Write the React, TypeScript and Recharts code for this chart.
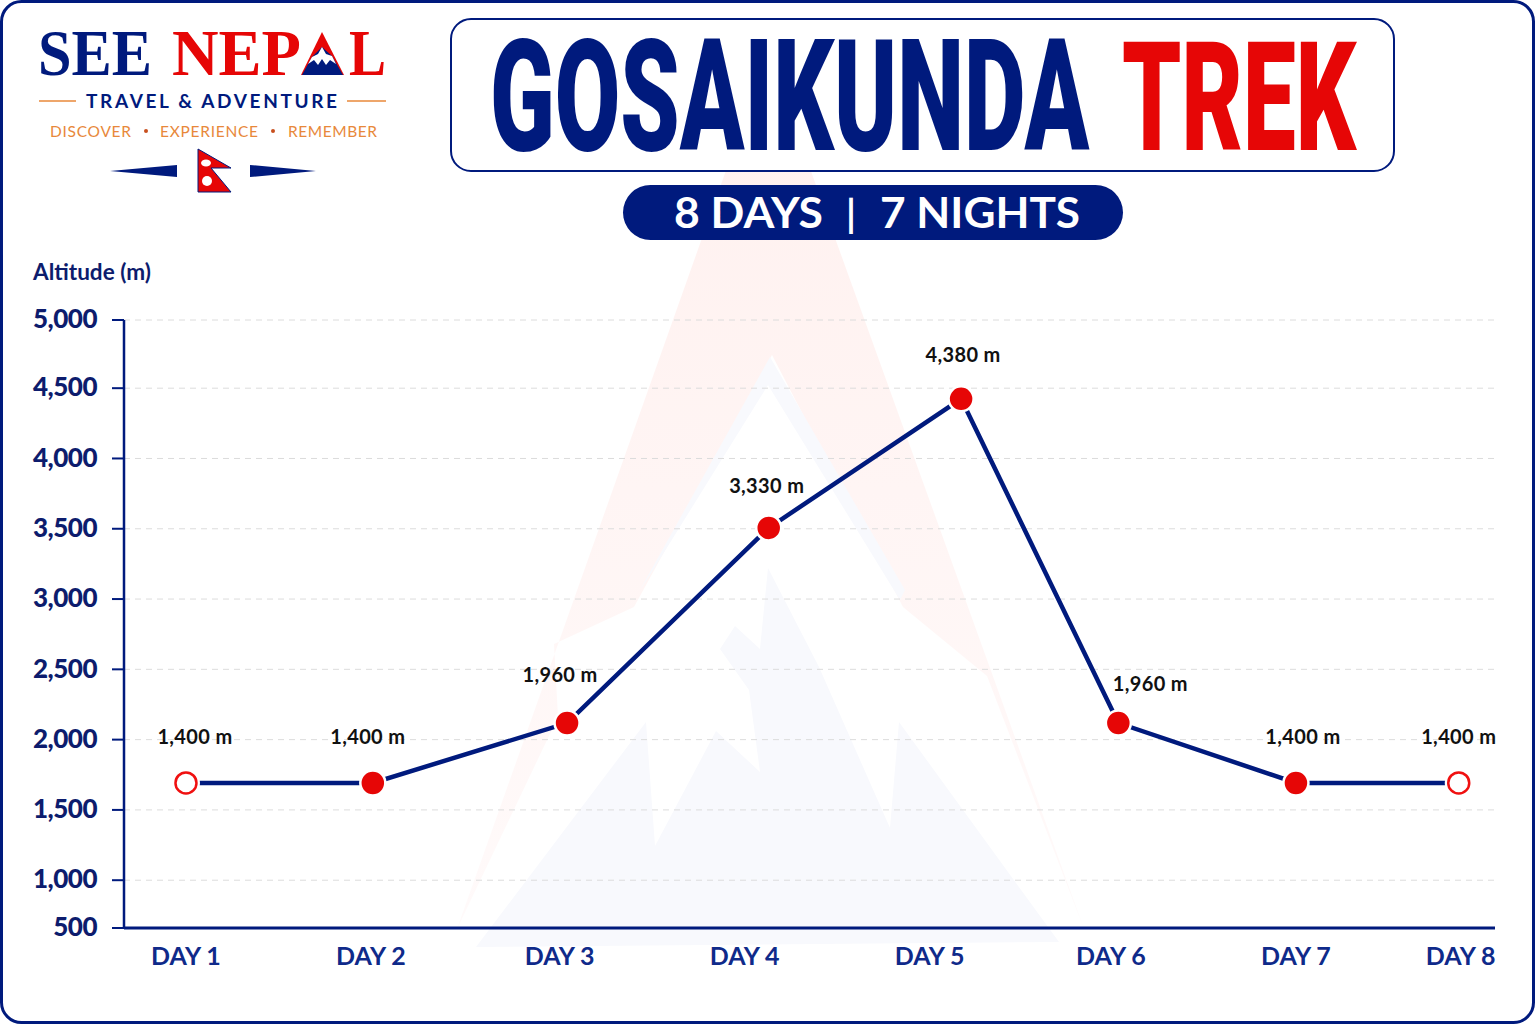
import React from 'react'
import { LineChart, Line, XAxis, YAxis, CartesianGrid, LabelList } from 'recharts'

// where each stop sits along the trail, in day units (the stops drift from the day labels)
const stopPositions = [1, 2.01, 3.06, 4.15, 5.19, 6.04, 7.0, 7.88]
// altitude as drawn against the axis, which is not the same as the printed label
const plottedAltitude = [1692, 1692, 2118, 3506, 4424, 2118, 1692, 1692]
const altitudeLabels = ['1,400 m', '1,400 m', '1,960 m', '3,330 m', '4,380 m', '1,960 m', '1,400 m', '1,400 m']

const dayLabels = ['DAY 1', 'DAY 2', 'DAY 3', 'DAY 4', 'DAY 5', 'DAY 6', 'DAY 7', 'DAY 8']
const dayTicks = [1, 2, 3.02, 4.02, 5.02, 6.0, 7.0, 7.89]

// the printed axis is not even: squeezed under 1,000 and a touch short at the top,
// so the two end ticks sit where a linear scale would say 660 and 4985
const altitudeTicks = [660, 1000, 1500, 2000, 2500, 3000, 3500, 4000, 4500, 4985]
const altitudeTickLabels = ['500', '1,000', '1,500', '2,000', '2,500', '3,000', '3,500', '4,000', '4,500', '5,000']

const rows = stopPositions.map((pos, i) => ({ pos, altitude: plottedAltitude[i], label: altitudeLabels[i] }))

const NAVY = '#001a7d'
const RED = '#e60606'
const ORANGE = '#e8883a'
const LABEL_NUDGE = [[9, -46], [-5, -46], [-7, -48], [-2, -42], [2, -44], [32, -39], [7, -46], [0, -46]]

const StopDot = (props: any) => {
  const { cx, cy, index } = props
  const open = index === 0 || index === rows.length - 1
  if (open) {
    return (
      <g key={index}>
        <circle cx={cx} cy={cy} r={14} fill="#fff" />
        <circle cx={cx} cy={cy} r={10.5} fill="#fff" stroke="#f01010" strokeWidth={2.5} />
      </g>
    )
  }
  return <circle key={index} cx={cx} cy={cy} r={12.5} fill={RED} stroke="#fff" strokeWidth={2.5} />
}

const StopLabel = (props: any) => {
  const { x, y, index, value } = props
  const [dx, dy] = LABEL_NUDGE[index]
  return (
    <text x={x + dx} y={y + dy} dy={7} textAnchor="middle" fontFamily="Lato" fontWeight={700} fontSize={20} letterSpacing={0.35} fill="#111">
      {value}
    </text>
  )
}

const Backdrop = () => (
  <svg width={1535} height={1024} style={{ position: 'absolute', left: 0, top: 0 }}>
    <defs>
      <linearGradient id="redFade" x1="0" y1="0" x2="0" y2="1">
        <stop offset="0" stopColor="#fff0ee" />
        <stop offset="1" stopColor="#fffafa" />
      </linearGradient>
    </defs>
    <rect x={0} y={0} width={1535} height={1024} fill="#fff" />
    <rect x={1.5} y={1.5} width={1532} height={1021} rx={20} fill="#fff" stroke={NAVY} strokeWidth={3} />

    {/* faint mountain watermark */}
    <polygon points="768,52 1084,929 987,676 903,607 772,355 634,607 554,644 558,717 457,929" fill="url(#redFade)" />
    <polygon points="476,947 646,722 655,846 716,731 760,772 749,690 720,649 735,626 760,649 768,568 819,667 890,828 899,722 1059,942" fill="#f8f9fd" />
    <polygon points="770,357 640,590 650,575 768,385 900,600 905,590" fill="#f8f9fd" />

    {/* logo */}
    <text x={38} y={75} fontFamily="Liberation Serif" fontWeight={700} fontSize={65} fill={NAVY} textLength={114} lengthAdjust="spacingAndGlyphs">SEE</text>
    <text x={172} y={75} fontFamily="Liberation Serif" fontWeight={700} fontSize={65} fill={RED} textLength={129} lengthAdjust="spacingAndGlyphs">NEP</text>
    <text x={349} y={75} fontFamily="Liberation Serif" fontWeight={700} fontSize={65} fill={RED} textLength={37} lengthAdjust="spacingAndGlyphs">L</text>
    <polygon points="322,32 344,75 301,75" fill={RED} />
    <polygon points="322,47 332,56 343,75 302,75 312,57" fill={NAVY} />
    <polygon points="322,47 326,54 332,56 336,64 330,60 326,65 322,59 318,65 314,60 308,64 312,57 318,54" fill="#fff" />

    <line x1={39} y1={101} x2={76} y2={101} stroke={ORANGE} strokeWidth={1.5} />
    <line x1={347} y1={101} x2={386} y2={101} stroke={ORANGE} strokeWidth={1.5} />
    <text x={86} y={108} fontFamily="Lato" fontWeight={700} fontSize={19} fill={NAVY} textLength={251} lengthAdjust="spacing">TRAVEL &amp; ADVENTURE</text>
    <text x={50} y={137} fontFamily="Lato" fontWeight={400} fontSize={15.5} fill={ORANGE} textLength={81} lengthAdjust="spacing">DISCOVER</text>
    <text x={160} y={137} fontFamily="Lato" fontWeight={400} fontSize={15.5} fill={ORANGE} textLength={98} lengthAdjust="spacing">EXPERIENCE</text>
    <text x={288} y={137} fontFamily="Lato" fontWeight={400} fontSize={15.5} fill={ORANGE} textLength={89} lengthAdjust="spacing">REMEMBER</text>
    <circle cx={146} cy={131} r={2} fill="#c8501e" />
    <circle cx={273} cy={131} r={2} fill="#c8501e" />

    <polygon points="110,171 177,165 177,177" fill={NAVY} />
    <polygon points="250,165 250,177 316,171" fill={NAVY} />
    <polygon points="198,149 231,168 211,168 231,192 198,192" fill={RED} stroke={NAVY} strokeWidth={1} />
    <ellipse cx={206} cy={163} rx={5} ry={3.5} fill="#fff" />
    <circle cx={207} cy={181} r={5} fill="#fff" />

    {/* title, squeezed sideways because no condensed face is installed */}
    <rect x={451} y={19} width={943} height={152} rx={20} fill="#fff" stroke={NAVY} strokeWidth={2} />
    <text transform="translate(490,150) scale(0.613,1)" fontFamily="Roboto" fontWeight={900} fontSize={155} fill={NAVY}>GOSAIKUNDA</text>
    <text transform="translate(1122,150) scale(0.62,1)" fontFamily="Roboto" fontWeight={900} fontSize={152} fill={RED}>TREK</text>

    <rect x={623} y={185} width={500} height={55} rx={27.5} fill={NAVY} />
    <text x={674} y={228} fontFamily="Lato" fontWeight={700} fontSize={42} fill="#fff" textLength={149} lengthAdjust="spacingAndGlyphs">8 DAYS</text>
    <text x={851} y={228} textAnchor="middle" fontFamily="Lato" fontWeight={700} fontSize={38} fill="#fff">|</text>
    <text x={880} y={228} fontFamily="Lato" fontWeight={700} fontSize={42} fill="#fff" textLength={200} lengthAdjust="spacingAndGlyphs">7 NIGHTS</text>

    <text x={33} y={280} fontFamily="Lato" fontWeight={700} fontSize={22} fill="#0d1c6d" textLength={118} lengthAdjust="spacingAndGlyphs">Altitude (m)</text>
  </svg>
)

export default function App() {
  return (
    <div style={{ position: 'absolute', left: 0, top: 0, width: 1535, height: 1024, overflow: 'hidden' }}>
      <Backdrop />
      <div style={{ position: 'absolute', left: 0, top: 0 }}>
        <LineChart width={1535} height={1024} data={rows} margin={{ top: 320, right: 40, bottom: 36, left: 0 }}>
          <CartesianGrid vertical={false} stroke="#dcdcdc" strokeDasharray="6 5" />
          <XAxis
            dataKey="pos"
            type="number"
            domain={[0.665, 8.076]}
            ticks={dayTicks}
            interval={0}
            allowDataOverflow
            height={60}
            tickLine={false}
            tickMargin={13}
            axisLine={{ stroke: NAVY, strokeWidth: 3 }}
            tick={{ fontFamily: 'Lato', fontWeight: 700, fontSize: 25, fill: '#0f2a8a' }}
            tickFormatter={(v: number) => dayLabels[dayTicks.indexOf(v)]}
          />
          <YAxis
            type="number"
            domain={[660, 4985]}
            ticks={altitudeTicks}
            interval={0}
            width={124}
            tickSize={12}
            tickMargin={15}
            axisLine={{ stroke: NAVY, strokeWidth: 2.5 }}
            tickLine={{ stroke: NAVY, strokeWidth: 2 }}
            tick={{ fontFamily: 'Lato', fontWeight: 900, fontSize: 26, letterSpacing: -0.5, fill: '#0d1c6d', dy: -1 }}
            tickFormatter={(v: number) => altitudeTickLabels[altitudeTicks.indexOf(v)]}
          />
          <Line
            dataKey="altitude"
            type="linear"
            stroke={NAVY}
            strokeWidth={4.5}
            dot={<StopDot />}
            activeDot={false}
            isAnimationActive={false}
          >
            <LabelList dataKey="label" content={<StopLabel />} />
          </Line>
        </LineChart>
      </div>
    </div>
  )
}
